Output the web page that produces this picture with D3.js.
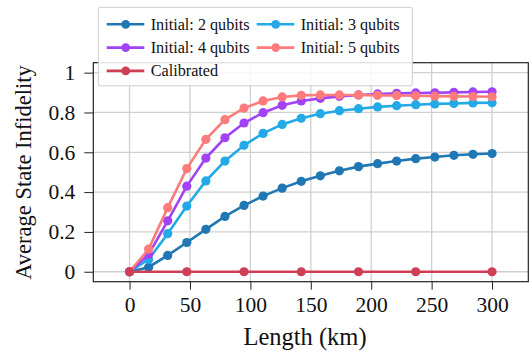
<!DOCTYPE html>
<html>
<head>
    <meta charset="UTF-8">
    <title>Average State Infidelity vs Length</title>
    <script src="https://d3js.org/d3.v7.min.js"></script>
    <style>
        body { margin: 0; background: #fff; }
        svg { display: block; }
        svg text { font-family: "Liberation Serif", "Times New Roman"; }
        .grid line { stroke: #d0d0d0; stroke-width: 1.3; }
        .axis path { display: none; }
        .axis line { stroke: #222; stroke-width: 1; }
    </style>
</head>
<body>
    <svg id="chart" width="529" height="351"></svg>

    <script>
        // lengths in km (20 evenly spaced samples)
        const lengths = [0, 15.79, 31.58, 47.37, 63.16, 78.95, 94.74, 110.53, 126.32, 142.11,
                         157.89, 173.68, 189.47, 205.26, 221.05, 236.84, 252.63, 268.42, 284.21, 300];

        const initial2 = [0, 0.023, 0.082, 0.147, 0.213, 0.278, 0.333, 0.380, 0.420, 0.454,
                          0.482, 0.507, 0.528, 0.543, 0.556, 0.568, 0.576, 0.585, 0.590, 0.594];
        const initial3 = [0, 0.062, 0.191, 0.330, 0.456, 0.556, 0.635, 0.695, 0.740, 0.771,
                          0.794, 0.809, 0.819, 0.828, 0.834, 0.839, 0.843, 0.845, 0.848, 0.849];
        const initial4 = [0, 0.087, 0.256, 0.430, 0.571, 0.673, 0.747, 0.799, 0.836, 0.858,
                          0.871, 0.881, 0.888, 0.893, 0.896, 0.898, 0.899, 0.901, 0.903, 0.904];
        const initial5 = [0, 0.114, 0.322, 0.518, 0.665, 0.764, 0.822, 0.858, 0.878, 0.886,
                          0.888, 0.888, 0.888, 0.886, 0.885, 0.884, 0.882, 0.881, 0.880, 0.879];

        const calibratedLengths = [0, 47.37, 94.74, 142.11, 189.47, 236.84, 300];
        const calibrated = [0, 0, 0, 0, 0, 0, 0];

        const xTicks = [0, 50, 100, 150, 200, 250, 300];
        const yTicks = [0, 0.2, 0.4, 0.6, 0.8, 1];

        const seriesNames = ["Initial: 2 qubits", "Initial: 3 qubits", "Initial: 4 qubits", "Initial: 5 qubits", "Calibrated"];
        const seriesColors = ["#1f77b4", "#22a9e6", "#a142f4", "#fe7b7b", "#cf3f55"];

        const series = [
            { name: seriesNames[0], color: seriesColors[0], xs: lengths, ys: initial2 },
            { name: seriesNames[1], color: seriesColors[1], xs: lengths, ys: initial3 },
            { name: seriesNames[2], color: seriesColors[2], xs: lengths, ys: initial4 },
            { name: seriesNames[3], color: seriesColors[3], xs: lengths, ys: initial5 },
            { name: seriesNames[4], color: seriesColors[4], xs: calibratedLengths, ys: calibrated }
        ];

        const plotLeft = 93.3, plotRight = 528.3, plotTop = 62.7, plotBottom = 281.7;

        const svg = d3.select("#chart");

        const x = d3.scaleLinear().domain([-30, 330]).range([plotLeft, plotRight]);
        const y = d3.scaleLinear().domain([-0.05, 1.05]).range([plotBottom, plotTop]);

        // grid
        svg.append("g")
            .attr("class", "grid")
            .selectAll("line")
            .data(xTicks)
            .enter()
            .append("line")
            .attr("x1", d => x(d)).attr("x2", d => x(d))
            .attr("y1", plotTop).attr("y2", plotBottom);

        svg.append("g")
            .attr("class", "grid")
            .selectAll("line")
            .data(yTicks)
            .enter()
            .append("line")
            .attr("x1", plotLeft).attr("x2", plotRight)
            .attr("y1", d => y(d)).attr("y2", d => y(d));

        // axes
        const xAxis = svg.append("g")
            .attr("class", "axis")
            .attr("transform", `translate(0,${plotBottom})`)
            .call(d3.axisBottom(x).tickValues(xTicks).tickSize(8).tickPadding(7).tickFormat(d3.format("d")));

        const yAxis = svg.append("g")
            .attr("class", "axis")
            .attr("transform", `translate(${plotLeft},0)`)
            .call(d3.axisLeft(y).tickValues(yTicks).tickSize(9).tickPadding(9).tickFormat(d => d === 0 || d === 1 ? d : d3.format(".1f")(d)));

        [xAxis, yAxis].forEach(a => a
            .attr("font-family", "Liberation Serif")
            .attr("font-size", 21.5)
            .selectAll("text")
            .attr("fill", "#111"));

        // lines and markers
        const line = d3.line()
            .x(d => x(d[0]))
            .y(d => y(d[1]));

        series.forEach(s => {
            const pts = s.xs.map((v, i) => [v, s.ys[i]]);
            svg.append("path")
                .datum(pts)
                .attr("fill", "none")
                .attr("stroke", s.color)
                .attr("stroke-width", 2.6)
                .attr("d", line);
            svg.append("g")
                .selectAll("circle")
                .data(pts)
                .enter()
                .append("circle")
                .attr("cx", d => x(d[0]))
                .attr("cy", d => y(d[1]))
                .attr("r", 4.6)
                .attr("fill", s.color);
        });

        // frame
        svg.append("rect")
            .attr("x", plotLeft).attr("y", plotTop)
            .attr("width", plotRight - plotLeft).attr("height", plotBottom - plotTop)
            .attr("fill", "none")
            .attr("stroke", "#222")
            .attr("stroke-width", 1.2);

        // axis titles
        svg.append("text")
            .attr("x", 305)
            .attr("y", 345)
            .attr("text-anchor", "middle")
            .attr("font-size", 24.5)
            .attr("fill", "#111")
            .text("Length (km)");

        svg.append("text")
            .attr("transform", "rotate(-90)")
            .attr("x", -172.5)
            .attr("y", 31)
            .attr("text-anchor", "middle")
            .attr("font-size", 22.5)
            .attr("fill", "#111")
            .text("Average State Infidelity");

        // legend
        const legend = svg.append("g");
        legend.append("rect")
            .attr("x", 98.3).attr("y", 7.3)
            .attr("width", 314).attr("height", 78.5)
            .attr("rx", 2)
            .attr("fill", "rgba(255,255,255,0.85)")
            .attr("stroke", "#cccccc")
            .attr("stroke-width", 1);

        series.forEach((s, i) => {
            const col = i % 2, row = Math.floor(i / 2);
            const lx = 106.7 + col * 150, ly = 24.3 + row * 23.3;
            const item = legend.append("g");
            item.append("line")
                .attr("x1", lx).attr("x2", lx + 37.6)
                .attr("y1", ly).attr("y2", ly)
                .attr("stroke", s.color)
                .attr("stroke-width", 2.6);
            item.append("circle")
                .attr("cx", lx + 19).attr("cy", ly)
                .attr("r", 4.4)
                .attr("fill", s.color);
            item.append("text")
                .attr("x", lx + 44)
                .attr("y", ly + 5.4)
                .attr("font-size", 16.2)
                .attr("fill", "#111")
                .text(s.name);
        });
    </script>
</body>
</html>
